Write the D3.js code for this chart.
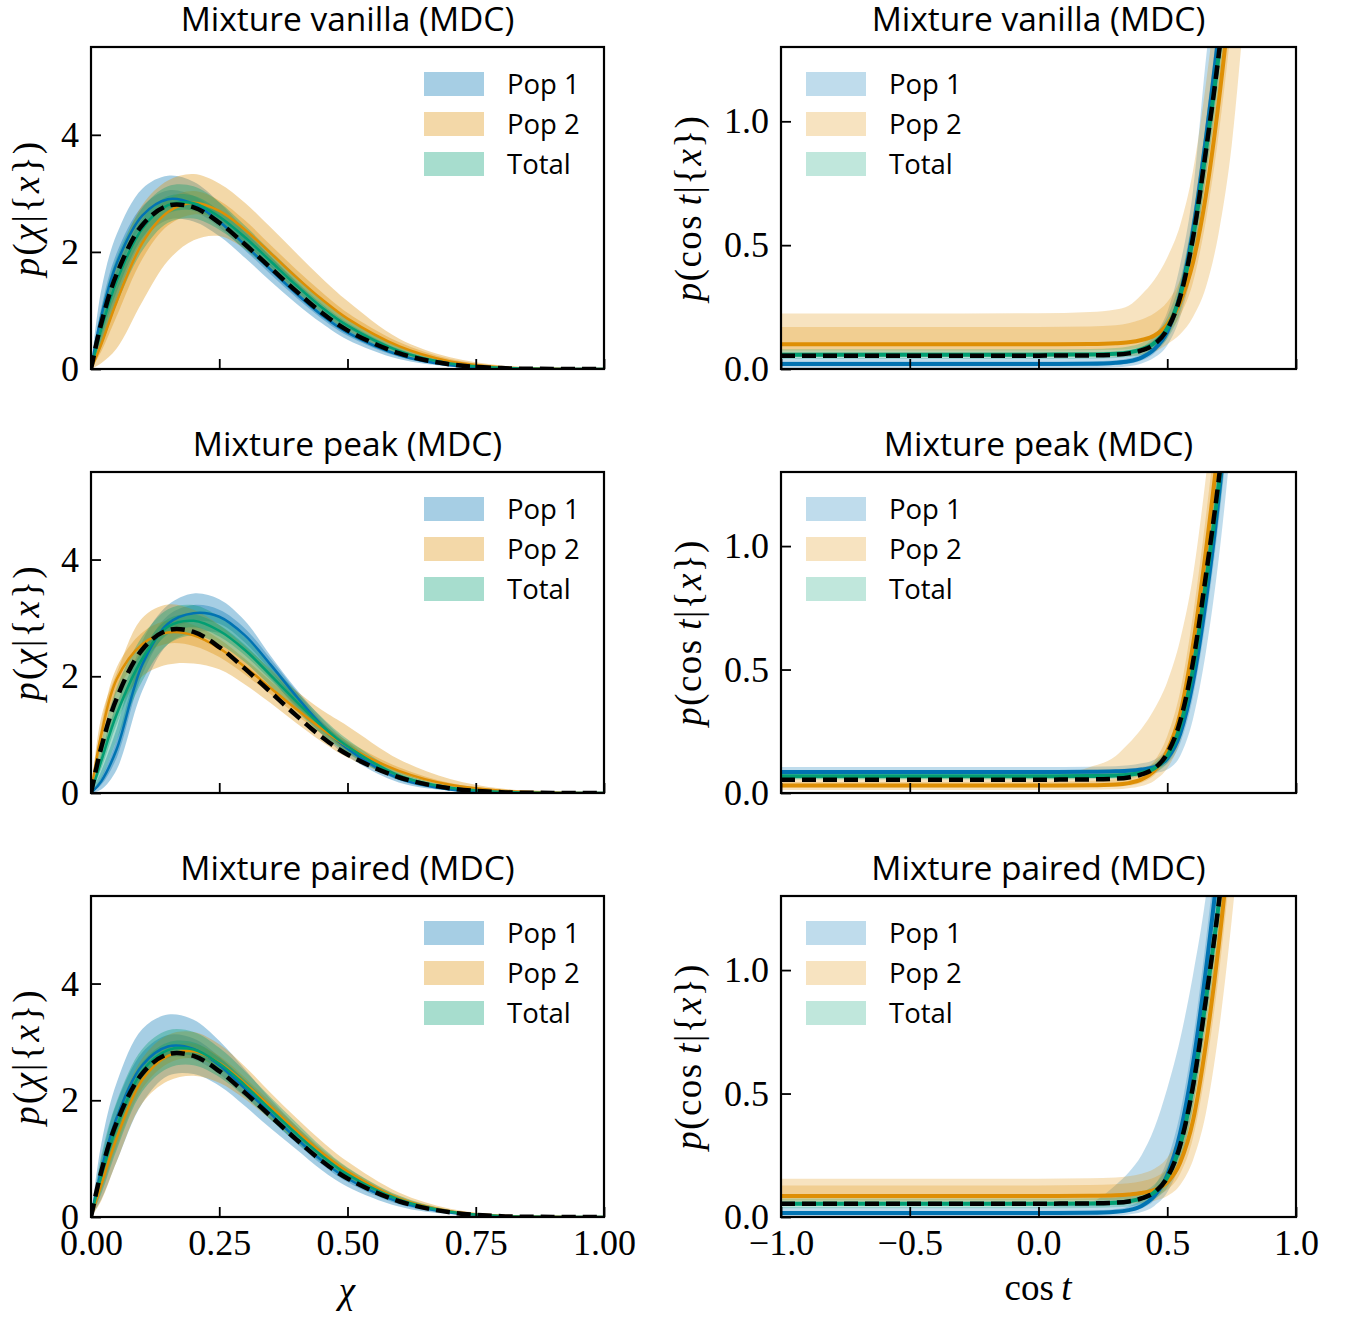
<!DOCTYPE html>
<html lang="en">
<head>
<meta charset="UTF-8">
<title>Mixture (MDC)</title>
<script src="https://cdnjs.cloudflare.com/ajax/libs/d3/7.8.5/d3.min.js"></script>
<style>
  body { margin: 0; background: #fff; }
  .tick text { font-family: 'Liberation Serif', serif; font-size: 36px; fill: #000; }
  .tick line { stroke: #000; stroke-width: 1.8; }
  .title { font-family: 'Open Sans', sans-serif; font-size: 33.5px; }
  .leg { font-family: 'Open Sans', sans-serif; font-size: 27.5px; }
  .lab { font-family: 'Liberation Serif', serif; font-size: 37px; }
</style>
</head>
<body>
<svg id="fig" width="1348" height="1317"></svg>
<script>
// grids
var chiGrid = [0, 0.02, 0.05, 0.1, 0.15, 0.2, 0.25, 0.3, 0.35, 0.4, 0.45, 0.5, 0.6, 0.7, 0.8, 0.9, 1.0];
var cosGrid = [-1, -0.5, 0, 0.2, 0.3, 0.35, 0.4, 0.45, 0.5, 0.55, 0.6, 0.65, 0.7, 0.75, 0.8, 0.9];

// true distributions (dashed)
var chiTruth = [0, 0.78, 1.62, 2.46, 2.79, 2.76, 2.5, 2.13, 1.73, 1.33, 0.96, 0.66, 0.27, 0.08, 0.015, 0.001, 0];
var cosTruth = [0.054, 0.054, 0.054, 0.055, 0.058, 0.063, 0.075, 0.1, 0.16, 0.29, 0.53, 0.88, 1.27, 1.75, 2.3, 3.6];

// each population: [median, lo50, hi50, lo90, hi90]
var vanillaChiPop1 = [
  [0, 0.9, 1.8, 2.62, 2.9, 2.82, 2.52, 2.12, 1.7, 1.29, 0.92, 0.62, 0.24, 0.065, 0.012, 0.001, 0],
  [0, 0.72, 1.58, 2.45, 2.75, 2.7, 2.42, 2.03, 1.62, 1.22, 0.86, 0.57, 0.21, 0.055, 0.009, 0.001, 0],
  [0, 1.05, 1.98, 2.78, 3.05, 2.96, 2.64, 2.22, 1.79, 1.37, 0.99, 0.68, 0.27, 0.077, 0.015, 0.002, 0],
  [0, 0.45, 1.2, 2.18, 2.55, 2.52, 2.27, 1.9, 1.5, 1.12, 0.78, 0.5, 0.17, 0.04, 0.006, 0, 0],
  [0, 1.35, 2.3, 3.08, 3.3, 3.2, 2.85, 2.38, 1.92, 1.48, 1.08, 0.75, 0.31, 0.09, 0.02, 0.003, 0]
];
var vanillaChiPop2 = [
  [0, 0.42, 1.15, 2.15, 2.68, 2.84, 2.7, 2.38, 1.98, 1.57, 1.19, 0.86, 0.39, 0.13, 0.03, 0.004, 0],
  [0, 0.3, 0.9, 1.88, 2.45, 2.64, 2.55, 2.25, 1.86, 1.46, 1.09, 0.77, 0.33, 0.1, 0.02, 0.002, 0],
  [0, 0.58, 1.42, 2.42, 2.9, 3.04, 2.88, 2.54, 2.12, 1.7, 1.31, 0.96, 0.46, 0.17, 0.045, 0.007, 0],
  [0, 0.1, 0.35, 1.15, 1.85, 2.2, 2.27, 2.05, 1.7, 1.32, 0.96, 0.66, 0.26, 0.07, 0.012, 0.001, 0],
  [0, 0.85, 1.78, 2.8, 3.22, 3.33, 3.17, 2.84, 2.42, 1.98, 1.55, 1.16, 0.52, 0.2, 0.06, 0.01, 0]
];
var vanillaChiTotal = [
  [0, 0.68, 1.5, 2.4, 2.8, 2.83, 2.6, 2.25, 1.84, 1.43, 1.05, 0.74, 0.31, 0.095, 0.02, 0.002, 0],
  [0, 0.55, 1.32, 2.24, 2.66, 2.71, 2.5, 2.16, 1.76, 1.36, 0.99, 0.69, 0.28, 0.082, 0.016, 0.002, 0],
  [0, 0.82, 1.68, 2.56, 2.95, 2.96, 2.71, 2.34, 1.92, 1.5, 1.11, 0.79, 0.34, 0.108, 0.025, 0.003, 0],
  [0, 0.38, 1.1, 2.02, 2.5, 2.57, 2.38, 2.05, 1.67, 1.28, 0.92, 0.63, 0.24, 0.068, 0.012, 0.001, 0],
  [0, 1.0, 1.9, 2.75, 3.12, 3.12, 2.85, 2.45, 2.02, 1.6, 1.19, 0.86, 0.38, 0.125, 0.03, 0.004, 0]
];

var peakChiPop1 = [
  [0, 0.2, 0.75, 2.2, 2.9, 3.08, 3.02, 2.7, 2.2, 1.66, 1.16, 0.76, 0.25, 0.06, 0.01, 0.001, 0],
  [0, 0.14, 0.6, 2.03, 2.76, 2.94, 2.9, 2.58, 2.1, 1.57, 1.09, 0.7, 0.22, 0.05, 0.008, 0.001, 0],
  [0, 0.27, 0.9, 2.37, 3.04, 3.22, 3.14, 2.82, 2.3, 1.75, 1.23, 0.82, 0.28, 0.07, 0.012, 0.001, 0],
  [0, 0.06, 0.4, 1.75, 2.55, 2.75, 2.74, 2.44, 1.97, 1.46, 1.0, 0.63, 0.18, 0.04, 0.005, 0, 0],
  [0, 0.38, 1.1, 2.6, 3.22, 3.42, 3.32, 2.95, 2.35, 1.78, 1.28, 0.88, 0.32, 0.085, 0.015, 0.002, 0]
];
var peakChiPop2 = [
  [0, 1.0, 1.95, 2.55, 2.75, 2.7, 2.48, 2.16, 1.8, 1.44, 1.1, 0.8, 0.38, 0.14, 0.04, 0.008, 0],
  [0, 0.82, 1.72, 2.35, 2.56, 2.52, 2.33, 2.03, 1.69, 1.34, 1.01, 0.73, 0.33, 0.11, 0.03, 0.005, 0],
  [0, 1.15, 2.15, 2.75, 2.95, 2.88, 2.64, 2.3, 1.92, 1.55, 1.2, 0.89, 0.44, 0.17, 0.05, 0.01, 0],
  [0, 0.5, 1.35, 2.0, 2.2, 2.22, 2.12, 1.86, 1.54, 1.2, 0.88, 0.61, 0.26, 0.08, 0.018, 0.003, 0],
  [0, 1.3, 2.05, 3.0, 3.23, 3.14, 2.88, 2.52, 2.12, 1.75, 1.42, 1.15, 0.58, 0.24, 0.075, 0.018, 0]
];
var peakChiTotal = [
  [0, 0.55, 1.35, 2.3, 2.85, 2.95, 2.78, 2.45, 2.02, 1.57, 1.15, 0.8, 0.3, 0.09, 0.02, 0.002, 0],
  [0, 0.42, 1.18, 2.15, 2.72, 2.84, 2.68, 2.36, 1.94, 1.5, 1.09, 0.75, 0.27, 0.08, 0.016, 0.002, 0],
  [0, 0.68, 1.52, 2.45, 2.98, 3.06, 2.88, 2.54, 2.1, 1.64, 1.21, 0.85, 0.33, 0.1, 0.024, 0.003, 0],
  [0, 0.25, 0.9, 1.92, 2.55, 2.7, 2.55, 2.24, 1.83, 1.41, 1.01, 0.68, 0.23, 0.065, 0.012, 0.001, 0],
  [0, 0.85, 1.8, 2.68, 3.15, 3.22, 3.02, 2.67, 2.21, 1.74, 1.3, 0.92, 0.37, 0.12, 0.03, 0.004, 0]
];

var pairedChiPop1 = [
  [0, 0.8, 1.7, 2.6, 2.92, 2.88, 2.6, 2.2, 1.77, 1.35, 0.97, 0.66, 0.26, 0.075, 0.014, 0.001, 0],
  [0, 0.62, 1.45, 2.38, 2.72, 2.7, 2.45, 2.08, 1.67, 1.27, 0.9, 0.6, 0.22, 0.06, 0.01, 0.001, 0],
  [0, 0.98, 1.95, 2.82, 3.12, 3.06, 2.75, 2.32, 1.87, 1.44, 1.04, 0.72, 0.3, 0.09, 0.018, 0.002, 0],
  [0, 0.3, 0.95, 1.95, 2.42, 2.45, 2.25, 1.9, 1.52, 1.16, 0.8, 0.52, 0.18, 0.045, 0.007, 0, 0],
  [0, 1.25, 2.3, 3.22, 3.47, 3.38, 3.02, 2.53, 2.02, 1.56, 1.14, 0.8, 0.34, 0.11, 0.025, 0.003, 0]
];
var pairedChiPop2 = [
  [0, 0.55, 1.35, 2.35, 2.76, 2.84, 2.64, 2.29, 1.89, 1.48, 1.1, 0.78, 0.32, 0.1, 0.022, 0.003, 0],
  [0, 0.45, 1.2, 2.2, 2.63, 2.72, 2.55, 2.21, 1.82, 1.42, 1.05, 0.74, 0.29, 0.09, 0.018, 0.002, 0],
  [0, 0.68, 1.5, 2.5, 2.9, 2.97, 2.76, 2.39, 1.97, 1.56, 1.17, 0.84, 0.36, 0.115, 0.027, 0.004, 0],
  [0, 0.28, 0.95, 1.95, 2.33, 2.42, 2.3, 2.02, 1.67, 1.3, 0.96, 0.67, 0.26, 0.075, 0.014, 0.001, 0],
  [0, 0.85, 1.75, 2.72, 3.12, 3.17, 2.96, 2.58, 2.13, 1.7, 1.3, 0.95, 0.42, 0.14, 0.035, 0.006, 0]
];
var pairedChiTotal = [
  [0, 0.7, 1.55, 2.5, 2.86, 2.87, 2.63, 2.26, 1.84, 1.43, 1.05, 0.73, 0.3, 0.09, 0.018, 0.002, 0],
  [0, 0.58, 1.4, 2.36, 2.74, 2.76, 2.54, 2.18, 1.77, 1.37, 1.0, 0.69, 0.27, 0.08, 0.015, 0.002, 0],
  [0, 0.84, 1.72, 2.65, 2.99, 2.99, 2.73, 2.35, 1.92, 1.5, 1.11, 0.78, 0.33, 0.1, 0.022, 0.003, 0],
  [0, 0.4, 1.15, 2.15, 2.55, 2.6, 2.4, 2.06, 1.67, 1.28, 0.93, 0.64, 0.24, 0.068, 0.012, 0.001, 0],
  [0, 1.05, 1.98, 2.88, 3.2, 3.17, 2.9, 2.5, 2.05, 1.62, 1.2, 0.85, 0.37, 0.12, 0.028, 0.004, 0]
];

var vanillaCosPop1 = [
  [0.02, 0.02, 0.02, 0.021, 0.025, 0.031, 0.046, 0.08, 0.15, 0.3, 0.56, 0.93, 1.36, 1.88, 2.45, 3.8],
  [0.012, 0.012, 0.012, 0.013, 0.016, 0.021, 0.034, 0.064, 0.125, 0.26, 0.5, 0.86, 1.28, 1.8, 2.35, 3.7],
  [0.03, 0.03, 0.03, 0.031, 0.035, 0.043, 0.06, 0.1, 0.18, 0.34, 0.62, 1.0, 1.44, 1.96, 2.55, 3.9],
  [0.003, 0.003, 0.003, 0.004, 0.007, 0.011, 0.022, 0.046, 0.095, 0.21, 0.42, 0.78, 1.19, 1.7, 2.25, 3.6],
  [0.045, 0.045, 0.045, 0.046, 0.052, 0.062, 0.085, 0.135, 0.23, 0.42, 0.72, 1.25, 1.7, 2.2, 2.8, 4.1]
];
var vanillaCosPop2 = [
  [0.1, 0.1, 0.1, 0.101, 0.104, 0.108, 0.117, 0.135, 0.18, 0.27, 0.43, 0.7, 1.08, 1.55, 2.1, 3.4],
  [0.075, 0.075, 0.075, 0.076, 0.078, 0.081, 0.088, 0.103, 0.14, 0.215, 0.35, 0.6, 0.95, 1.4, 1.95, 3.25],
  [0.17, 0.17, 0.17, 0.172, 0.177, 0.185, 0.2, 0.225, 0.27, 0.36, 0.53, 0.82, 1.2, 1.7, 2.25, 3.55],
  [0.048, 0.048, 0.048, 0.049, 0.05, 0.052, 0.058, 0.07, 0.1, 0.14, 0.21, 0.33, 0.55, 0.9, 1.45, 2.6],
  [0.224, 0.224, 0.225, 0.23, 0.24, 0.255, 0.3, 0.36, 0.45, 0.58, 0.8, 1.15, 1.6, 2.2, 2.8, 4.2]
];
var vanillaCosTotal = [
  [0.058, 0.058, 0.058, 0.059, 0.062, 0.067, 0.079, 0.105, 0.165, 0.295, 0.53, 0.88, 1.27, 1.75, 2.3, 3.6],
  [0.05, 0.05, 0.05, 0.051, 0.054, 0.058, 0.069, 0.092, 0.145, 0.265, 0.49, 0.83, 1.21, 1.68, 2.22, 3.5],
  [0.067, 0.067, 0.067, 0.068, 0.071, 0.077, 0.09, 0.119, 0.186, 0.326, 0.57, 0.93, 1.33, 1.82, 2.38, 3.7],
  [0.04, 0.04, 0.04, 0.041, 0.044, 0.048, 0.057, 0.077, 0.122, 0.23, 0.44, 0.77, 1.14, 1.6, 2.12, 3.4],
  [0.08, 0.08, 0.08, 0.081, 0.085, 0.091, 0.105, 0.138, 0.21, 0.36, 0.62, 0.99, 1.4, 1.9, 2.46, 3.8]
];

var peakCosPop1 = [
  [0.085, 0.085, 0.085, 0.086, 0.088, 0.09, 0.095, 0.105, 0.14, 0.24, 0.45, 0.78, 1.2, 1.72, 2.3, 3.7],
  [0.078, 0.078, 0.078, 0.079, 0.08, 0.082, 0.086, 0.095, 0.118, 0.2, 0.39, 0.7, 1.1, 1.6, 2.2, 3.6],
  [0.093, 0.093, 0.093, 0.094, 0.096, 0.099, 0.105, 0.117, 0.16, 0.28, 0.51, 0.86, 1.3, 1.82, 2.4, 3.8],
  [0.068, 0.068, 0.068, 0.069, 0.07, 0.071, 0.074, 0.08, 0.095, 0.15, 0.3, 0.57, 0.95, 1.45, 2.05, 3.4],
  [0.105, 0.105, 0.105, 0.106, 0.108, 0.112, 0.12, 0.135, 0.185, 0.32, 0.57, 0.95, 1.4, 1.95, 2.5, 3.9]
];
var peakCosPop2 = [
  [0.03, 0.03, 0.03, 0.031, 0.034, 0.04, 0.055, 0.09, 0.17, 0.32, 0.6, 0.98, 1.42, 1.95, 2.5, 3.8],
  [0.022, 0.022, 0.022, 0.023, 0.025, 0.03, 0.042, 0.072, 0.14, 0.28, 0.53, 0.9, 1.33, 1.85, 2.4, 3.7],
  [0.045, 0.045, 0.046, 0.05, 0.057, 0.066, 0.085, 0.13, 0.23, 0.41, 0.72, 1.12, 1.58, 2.1, 2.65, 4.0],
  [0.012, 0.012, 0.012, 0.013, 0.015, 0.019, 0.028, 0.05, 0.1, 0.21, 0.42, 0.77, 1.18, 1.68, 2.25, 3.5],
  [0.06, 0.06, 0.065, 0.105, 0.15, 0.2, 0.26, 0.34, 0.45, 0.62, 0.88, 1.28, 1.75, 2.3, 2.9, 4.3]
];
var peakCosTotal = [
  [0.068, 0.068, 0.068, 0.069, 0.071, 0.074, 0.082, 0.1, 0.15, 0.27, 0.5, 0.85, 1.25, 1.75, 2.3, 3.6],
  [0.062, 0.062, 0.062, 0.063, 0.065, 0.068, 0.075, 0.09, 0.135, 0.245, 0.46, 0.8, 1.19, 1.68, 2.22, 3.5],
  [0.075, 0.075, 0.075, 0.076, 0.078, 0.081, 0.09, 0.11, 0.165, 0.295, 0.54, 0.9, 1.31, 1.82, 2.38, 3.7],
  [0.055, 0.055, 0.055, 0.056, 0.058, 0.061, 0.068, 0.082, 0.12, 0.22, 0.42, 0.74, 1.12, 1.6, 2.13, 3.4],
  [0.085, 0.085, 0.085, 0.086, 0.088, 0.092, 0.1, 0.122, 0.182, 0.32, 0.58, 0.95, 1.38, 1.9, 2.46, 3.8]
];

var pairedCosPop1 = [
  [0.016, 0.016, 0.016, 0.017, 0.021, 0.028, 0.045, 0.085, 0.17, 0.34, 0.62, 1.0, 1.45, 2.0, 2.6, 4.0],
  [0.01, 0.01, 0.01, 0.011, 0.014, 0.02, 0.034, 0.068, 0.14, 0.29, 0.55, 0.92, 1.36, 1.9, 2.5, 3.9],
  [0.024, 0.024, 0.024, 0.026, 0.032, 0.043, 0.07, 0.125, 0.23, 0.42, 0.72, 1.12, 1.58, 2.12, 2.7, 4.1],
  [0.003, 0.003, 0.003, 0.004, 0.006, 0.01, 0.02, 0.045, 0.1, 0.22, 0.45, 0.8, 1.22, 1.75, 2.35, 3.7],
  [0.04, 0.04, 0.041, 0.06, 0.13, 0.18, 0.25, 0.36, 0.52, 0.72, 0.98, 1.3, 1.75, 2.3, 2.9, 4.3]
];
var pairedCosPop2 = [
  [0.085, 0.085, 0.085, 0.086, 0.088, 0.091, 0.097, 0.11, 0.14, 0.22, 0.39, 0.7, 1.1, 1.6, 2.2, 3.5],
  [0.068, 0.068, 0.068, 0.069, 0.07, 0.072, 0.076, 0.086, 0.11, 0.175, 0.32, 0.6, 0.98, 1.47, 2.05, 3.35],
  [0.128, 0.128, 0.128, 0.13, 0.133, 0.137, 0.145, 0.16, 0.195, 0.285, 0.47, 0.8, 1.22, 1.74, 2.35, 3.65],
  [0.05, 0.05, 0.05, 0.051, 0.052, 0.054, 0.058, 0.066, 0.085, 0.13, 0.23, 0.42, 0.75, 1.2, 1.75, 3.1],
  [0.155, 0.155, 0.155, 0.157, 0.16, 0.165, 0.175, 0.195, 0.24, 0.34, 0.54, 0.88, 1.32, 1.85, 2.45, 3.8]
];
var pairedCosTotal = [
  [0.054, 0.054, 0.054, 0.055, 0.058, 0.063, 0.075, 0.1, 0.16, 0.29, 0.53, 0.88, 1.27, 1.75, 2.3, 3.6],
  [0.046, 0.046, 0.046, 0.047, 0.05, 0.055, 0.066, 0.088, 0.142, 0.262, 0.49, 0.83, 1.21, 1.68, 2.22, 3.5],
  [0.062, 0.062, 0.062, 0.063, 0.066, 0.072, 0.085, 0.113, 0.18, 0.32, 0.57, 0.93, 1.33, 1.82, 2.38, 3.7],
  [0.035, 0.035, 0.035, 0.036, 0.039, 0.043, 0.053, 0.073, 0.118, 0.225, 0.44, 0.77, 1.14, 1.6, 2.12, 3.4],
  [0.075, 0.075, 0.075, 0.076, 0.079, 0.086, 0.1, 0.132, 0.205, 0.355, 0.62, 0.99, 1.4, 1.9, 2.46, 3.8]
];

var titles = ['Mixture vanilla (MDC)', 'Mixture peak (MDC)', 'Mixture paired (MDC)'];
var popLabels = ['Pop 1', 'Pop 2', 'Total'];
var popColors = ['#0173b2', '#de8f05', '#029e73'];
var chiTicks = [0, 0.25, 0.5, 0.75, 1.0];
var cosTicks = [-1, -0.5, 0, 0.5, 1.0];
var chiYTicks = [0, 2, 4];
var cosYTicks = [0, 0.5, 1.0];

var panels = [
  { row: 0, col: 0, pops: [vanillaChiPop1, vanillaChiPop2, vanillaChiTotal] },
  { row: 0, col: 1, pops: [vanillaCosPop1, vanillaCosPop2, vanillaCosTotal] },
  { row: 1, col: 0, pops: [peakChiPop1, peakChiPop2, peakChiTotal] },
  { row: 1, col: 1, pops: [peakCosPop1, peakCosPop2, peakCosTotal] },
  { row: 2, col: 0, pops: [pairedChiPop1, pairedChiPop2, pairedChiTotal] },
  { row: 2, col: 1, pops: [pairedCosPop1, pairedCosPop2, pairedCosTotal] }
];

var colBox = [{ x0: 91, x1: 604 }, { x0: 781, x1: 1296 }];
var rowBox = [{ y0: 47, y1: 369 }, { y0: 472, y1: 793 }, { y0: 896, y1: 1217 }];

var svg = d3.select('#fig');
var defs = svg.append('defs');

panels.forEach(function(p, i) {
  var c = colBox[p.col], r = rowBox[p.row];
  var chi = p.col === 0;
  var grid = chi ? chiGrid : cosGrid;
  var truth = chi ? chiTruth : cosTruth;
  var alpha = chi ? 0.35 : 0.25;
  var lw = chi ? 2.5 : 4;
  var curve = chi ? d3.curveCatmullRom.alpha(0.5) : d3.curveMonotoneX;

  var x = d3.scaleLinear().domain(chi ? [0, 1] : [-1, 1]).range([c.x0, c.x1]);
  var y = d3.scaleLinear().domain(chi ? [0, 5.5] : [0, 1.3]).range([r.y1, r.y0]);

  defs.append('clipPath').attr('id', 'clip' + i)
    .append('rect').attr('x', c.x0).attr('y', r.y0)
    .attr('width', c.x1 - c.x0).attr('height', r.y1 - r.y0);

  var g = svg.append('g').attr('clip-path', 'url(#clip' + i + ')');

  function band(lo, hi) {
    return d3.area()
      .x(function(d) { return x(d); })
      .y0(function(d, k) { return y(lo[k]); })
      .y1(function(d, k) { return y(hi[k]); })
      .curve(curve)(grid);
  }
  function line(vals) {
    return d3.line()
      .x(function(d) { return x(d); })
      .y(function(d, k) { return y(vals[k]); })
      .curve(curve)(grid);
  }

  // bands
  p.pops.forEach(function(pop, j) {
    g.append('path').attr('d', band(pop[3], pop[4]))
      .attr('fill', popColors[j]).attr('fill-opacity', alpha);
    g.append('path').attr('d', band(pop[1], pop[2]))
      .attr('fill', popColors[j]).attr('fill-opacity', alpha);
  });
  // medians
  p.pops.forEach(function(pop, j) {
    g.append('path').attr('d', line(pop[0]))
      .attr('fill', 'none').attr('stroke', popColors[j]).attr('stroke-width', lw);
  });
  // truth
  g.append('path').attr('d', line(truth))
    .attr('fill', 'none').attr('stroke', '#000')
    .attr('stroke-width', 4.5).attr('stroke-dasharray', '14,7');

  // axes
  var xAxis = d3.axisBottom(x).tickValues(chi ? chiTicks : cosTicks)
    .tickSizeInner(-10).tickSizeOuter(0).tickPadding(12)
    .tickFormat(p.row === 2 ? d3.format(chi ? '.2f' : '.1f') : function() { return ''; });
  var gx = svg.append('g').attr('transform', 'translate(0,' + r.y1 + ')').call(xAxis);
  gx.select('.domain').remove();

  var yAxis = d3.axisLeft(y).tickValues(chi ? chiYTicks : cosYTicks)
    .tickSizeInner(-10).tickSizeOuter(0).tickPadding(12)
    .tickFormat(d3.format(chi ? 'd' : '.1f'));
  var gy = svg.append('g').attr('transform', 'translate(' + c.x0 + ',0)').call(yAxis);
  gy.select('.domain').remove();

  // frame
  svg.append('rect').attr('x', c.x0).attr('y', r.y0)
    .attr('width', c.x1 - c.x0).attr('height', r.y1 - r.y0)
    .attr('fill', 'none').attr('stroke', '#000').attr('stroke-width', 2.2);

  // title
  svg.append('text').attr('class', 'title')
    .attr('x', (c.x0 + c.x1) / 2).attr('y', r.y0 - 16)
    .attr('text-anchor', 'middle').text(titles[p.row]);

  // legend
  var lx = chi ? c.x0 + 333 : c.x0 + 25;
  popLabels.forEach(function(lbl, j) {
    var cy = r.y0 + 37 + j * 40;
    svg.append('rect').attr('x', lx).attr('y', cy - 12)
      .attr('width', 60).attr('height', 24)
      .attr('fill', popColors[j]).attr('fill-opacity', alpha);
    svg.append('text').attr('class', 'leg')
      .attr('x', lx + 83).attr('y', cy + 10).text(lbl);
  });

  // y label
  var yl = svg.append('text').attr('class', 'lab')
    .attr('text-anchor', 'middle').attr('letter-spacing', chi ? 2.2 : 1.4)
    .attr('transform', 'translate(' + (chi ? 39 : 701) + ',' + ((r.y0 + r.y1) / 2) + ') rotate(-90)');
  if (chi) {
    yl.append('tspan').attr('font-style', 'italic').text('p');
    yl.append('tspan').text('(');
    yl.append('tspan').attr('font-style', 'italic').text('χ');
    yl.append('tspan').text('|{');
    yl.append('tspan').attr('font-style', 'italic').text('x');
    yl.append('tspan').text('})');
  } else {
    yl.append('tspan').attr('font-style', 'italic').text('p');
    yl.append('tspan').text('(cos\u2009');
    yl.append('tspan').attr('font-style', 'italic').text('t');
    yl.append('tspan').text('|{');
    yl.append('tspan').attr('font-style', 'italic').text('x');
    yl.append('tspan').text('})');
  }
});

// x labels
svg.append('text').attr('class', 'lab').attr('text-anchor', 'middle')
  .attr('x', 347).attr('y', 1303).attr('font-style', 'italic').text('χ');
var xl = svg.append('text').attr('class', 'lab').attr('text-anchor', 'middle')
  .attr('x', 1038).attr('y', 1300);
xl.append('tspan').text('cos\u2009');
xl.append('tspan').attr('font-style', 'italic').text('t');
</script>
</body>
</html>
